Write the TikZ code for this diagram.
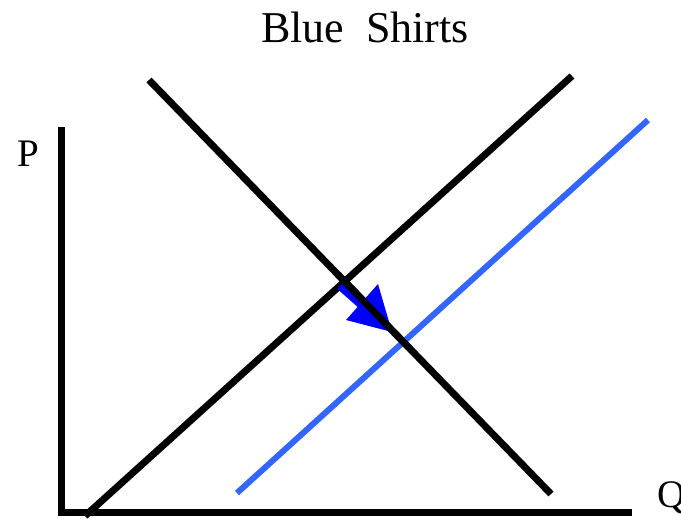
\documentclass[tikz,border=0pt]{standalone}
\usepackage{fontspec}
\setmainfont{Liberation Serif}
\usetikzlibrary{calc}
\definecolor{shiftblue}{RGB}{51,102,255}
\definecolor{arrowblue}{RGB}{0,0,255}
\begin{document}
\begin{tikzpicture}[x=1pt,y=-1pt,
  axis/.style={line width=7pt,black},
  curve/.style={line width=7pt,black},
  newcurve/.style={line width=6pt,shiftblue},
  lbl/.style={font=\fontsize{39}{41}\selectfont,inner sep=0pt,anchor=base west},
  ttl/.style={font=\fontsize{44}{46}\selectfont,inner sep=0pt,anchor=base}]
\useasboundingbox (0,0) rectangle (681,519);
% axes
\coordinate (ytop) at (61,127);
\coordinate (origin) at (61,512.5);
\coordinate (xend) at (632,512.5);
\draw[axis] (ytop) -- (61,516);
\draw[axis] (57.5,512.5) -- (xend);
% supply, demand, new supply
\coordinate (s1a) at (85,516);
\coordinate (s1b) at (572,76);
\coordinate (da) at (149,80);
\coordinate (db) at (551,494);
\coordinate (s2a) at (237,493);
\coordinate (s2b) at (648,120);
\draw[curve] (s1a) -- (s1b);
\draw[curve] (da) -- (db);
\draw[newcurve] (s2a) -- (s2b);
% shift arrow
\coordinate (arrS) at (340,286);
\coordinate (arrE) at (374,316);
\draw[arrowblue,line width=8pt] (arrS) -- (arrE);
\fill[arrowblue] (392,332) -- (378,284) -- (346,320) -- cycle;
\draw[curve] ($(da)!0.47!(db)$) -- ($(da)!0.65!(db)$);
% labels
\node[ttl] (title) at (365,42.5) {Blue\ \ Shirts};
\node[lbl] (plbl) at (17,167) {P};
\node[lbl] (qlbl) at (657,507) {Q};
\end{tikzpicture}
\end{document}
